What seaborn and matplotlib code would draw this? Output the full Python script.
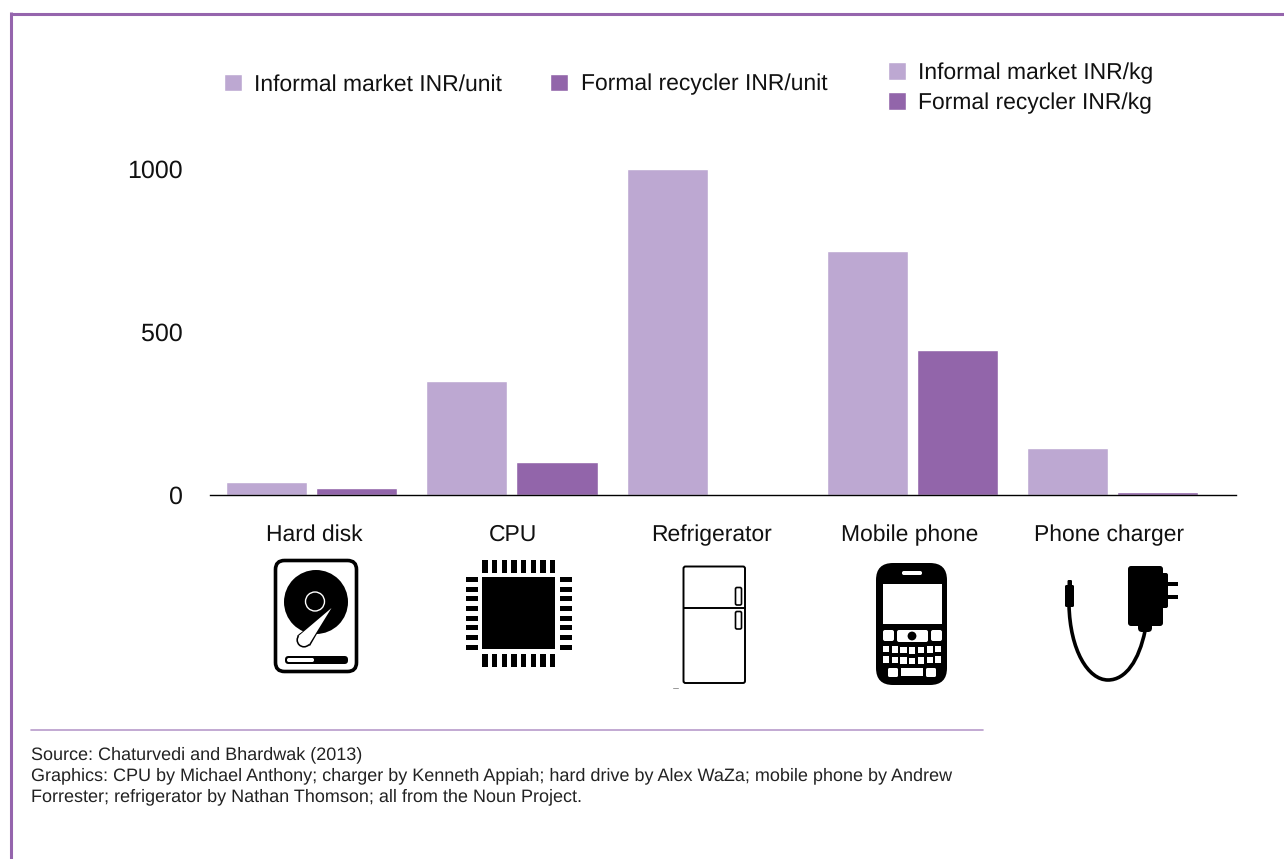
import matplotlib
matplotlib.use("Agg")
import matplotlib.pyplot as plt
from matplotlib.patches import Rectangle, Circle, FancyBboxPatch, Polygon, PathPatch, Patch
from matplotlib.path import Path
from matplotlib.transforms import ScaledTranslation
import pandas as pd
import seaborn as sns

items = ["Hard disk", "CPU", "Refrigerator", "Mobile phone", "Phone charger"]
informal = [40, 350, 1000, 750, 145]
formal = [20, 100, 0, 445, 10]
y_ticks = [0, 500, 1000]
unit_labels = ["Informal market INR/unit", "Formal recycler INR/unit"]
kg_labels = ["Informal market INR/kg", "Formal recycler INR/kg"]
source_lines = [
    "Source: Chaturvedi and Bhardwak (2013)",
    "Graphics: CPU by Michael Anthony; charger by Kenneth Appiah; hard drive by Alex WaZa; mobile phone by Andrew",
    "Forrester; refrigerator by Nathan Thomson; all from the Noun Project.",
]

LIGHT = "#BDA8D2"
DARK = "#9265AA"
FRAME = "#9565AD"
W, H = 1284, 859

sns.set_style("white")
plt.rcParams["font.family"] = ["Liberation Sans", "DejaVu Sans"]
plt.rcParams["text.hinting"] = "none"

df = pd.DataFrame({
    "item": items * 2,
    "value": informal + formal,
    "series": ["informal"] * 5 + ["formal"] * 5,
})

fig = plt.figure(figsize=(W / 100, H / 100), dpi=100)
ax = fig.add_axes([210 / W, (H - 495) / H, 1026 / W, 326 / H])
sns.barplot(data=df, x="item", y="value", hue="series", palette=[LIGHT, DARK],
            saturation=1, width=0.9, gap=0.1, legend=False, ax=ax)
ax.set_xlim(-0.508, 4.616)
ax.set_ylim(0, 1000)
ax.set_xlabel("")
ax.set_ylabel("")
ax.set_yticks(y_ticks)
ax.tick_params(axis="y", length=0, pad=20, labelsize=18, labelcolor="#111111")
ax.tick_params(axis="x", length=0, pad=21, labelsize=16.5, labelcolor="#111111")
sns.despine(ax=ax, left=True)
ax.spines["bottom"].set_color("black")
ax.spines["bottom"].set_linewidth(1.0)
ax.patch.set_alpha(0)

# category labels sit a little off the bar groups in the original
for lab, dx in zip(ax.get_xticklabels(), [3, 1, -1, -3, -4]):
    lab.set_transform(lab.get_transform() + ScaledTranslation(dx / 100, 0, fig.dpi_scale_trans))

# overlay in pixel coordinates for frame, icons and footer
ov = fig.add_axes([0, 0, 1, 1], zorder=-1)
ov.set_xlim(0, W)
ov.set_ylim(H, 0)
ov.axis("off")

ov.plot([10.5, W], [13.5, 13.5], color=FRAME, lw=2.2, solid_capstyle="butt")
ov.plot([10.5, 10.5], [12, H], color=FRAME, lw=2.2, solid_capstyle="butt")
ov.plot([31, 983], [730, 730], color="#B79BCB", lw=1.2)

for i, line in enumerate(source_lines):
    ov.text(31, 755 + i * 21, line, fontsize=13, color="#222222", va="center")


def rbox(x0, y0, x1, y1, r, **kw):
    ov.add_patch(FancyBboxPatch((x0 + r, y0 + r), x1 - x0 - 2 * r, y1 - y0 - 2 * r,
                                boxstyle=f"round,pad={r},rounding_size={r}", **kw))


def rect(x0, y0, x1, y1, c="black"):
    ov.add_patch(Rectangle((x0, y0), x1 - x0, y1 - y0, fc=c, ec="none"))


def hard_disk():
    rbox(275.5, 560.5, 356.5, 671.5, 9, fc="white", ec="black", lw=2.6)
    ov.add_patch(Circle((316, 602), 32, fc="black", ec="none"))
    ov.add_patch(Circle((315, 601.5), 9.5, fc="black", ec="white", lw=1.0))
    # arm: black outline first, white body on top
    ov.add_patch(Polygon([(333, 606), (310, 646), (297, 636)], fc="black", ec="none"))
    ov.add_patch(Circle((304, 640), 7.6, fc="black", ec="none"))
    ov.add_patch(Polygon([(331.5, 608), (309, 644.5), (298.5, 636)], fc="white", ec="none"))
    ov.add_patch(Circle((304, 640), 6, fc="white", ec="none"))
    rbox(285, 656, 348, 664, 3.5, fc="black", ec="none")
    rbox(287, 658, 314, 662, 1.8, fc="white", ec="none")


def cpu():
    rect(482, 577, 555, 649)
    for k in range(8):
        cx = 485 + k * 9.67
        rect(cx - 2.8, 560, cx + 2.8, 572.5)
        rect(cx - 2.8, 654, cx + 2.8, 667)
        cy = 579.5 + k * 9.67
        rect(466, cy - 2.4, 478, cy + 2.4)
        rect(560, cy - 2.4, 572, cy + 2.4)


def fridge():
    rbox(683.5, 566.5, 745, 683, 2, fc="white", ec="black", lw=1.4)
    ov.plot([683.5, 745], [608, 608], color="black", lw=1.4)
    rbox(735.5, 587.5, 741.5, 605, 1.5, fc="white", ec="black", lw=1.2)
    rbox(735.5, 611.5, 741.5, 629, 1.5, fc="white", ec="black", lw=1.2)
    ov.plot([673, 678], [687.5, 687.5], color="#999999", lw=0.7)


def phone():
    rbox(876, 563, 947, 685, 17, fc="black", ec="none")
    rbox(902, 571, 922, 575, 1.8, fc="white", ec="none")
    rect(883, 584, 942, 624, "white")
    rbox(883, 630, 894, 641, 2, fc="white", ec="none")
    rbox(897, 630, 928, 642, 2, fc="white", ec="none")
    rbox(931, 630, 942, 641, 2, fc="white", ec="none")
    ov.add_patch(Circle((912, 636), 4.4, fc="black", ec="none"))
    for y0 in [647, 657.5]:
        for k in range(7):
            x0 = 883 + k * 8.7
            bend = 1.5 * ((k - 3) / 3) ** 2
            rect(x0, y0 - bend, x0 + 6.2, y0 - bend + 6.6, "white")
    rbox(888, 668, 898, 677, 1.5, fc="white", ec="none")
    rect(901, 668, 923, 676, "white")
    rbox(926, 668, 936, 677, 1.5, fc="white", ec="none")


def charger():
    rbox(1128, 566, 1163, 626, 3, fc="black", ec="none")
    rbox(1160, 573, 1168, 608, 2, fc="black", ec="none")
    rect(1167, 582, 1178, 586)
    rect(1167, 595, 1178, 598.5)
    rbox(1138, 622, 1152, 632, 4, fc="black", ec="none")
    verts = [(1069, 605), (1070, 650), (1088, 680), (1108, 680),
             (1126, 680), (1139, 660), (1145, 631)]
    codes = [Path.MOVETO] + [Path.CURVE4] * 6
    ov.add_patch(PathPatch(Path(verts, codes), fc="none", ec="black", lw=2.6))
    rbox(1065, 585, 1074, 607, 1.5, fc="black", ec="none")
    rbox(1067.5, 580, 1072, 588, 1.2, fc="black", ec="none")


hard_disk()
cpu()
fridge()
phone()
charger()

# legends
sq = dict(handlelength=0.79, handleheight=0.79, handletextpad=0.53, borderpad=0,
          borderaxespad=0, frameon=False, fontsize=16.5, labelcolor="#111111")
leg1 = fig.legend(handles=[Patch(fc=LIGHT, label=unit_labels[0]), Patch(fc=DARK, label=unit_labels[1])],
                  ncol=2, columnspacing=2.1, loc="center left",
                  bbox_to_anchor=(224 / W, 1 - 84.5 / H), **sq)
leg2 = fig.legend(handles=[Patch(fc=LIGHT, label=kg_labels[0]), Patch(fc=DARK, label=kg_labels[1])],
                  ncol=1, labelspacing=0.37, loc="center left",
                  bbox_to_anchor=(888 / W, 1 - 88 / H), **sq)

fig.savefig("out.png", dpi=100, facecolor="white")
